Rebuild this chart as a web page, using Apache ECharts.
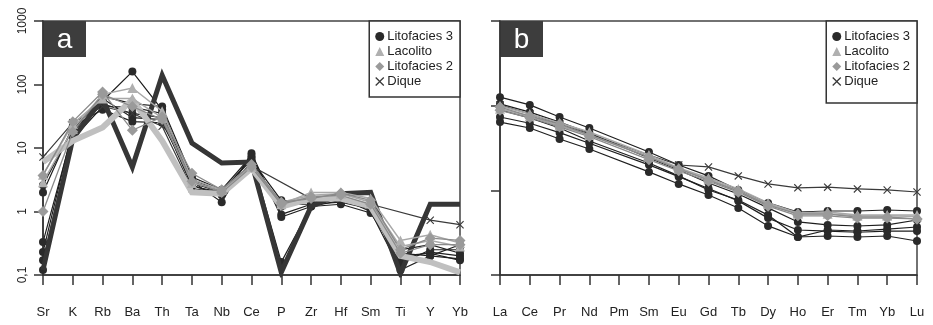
<!DOCTYPE html>
<html><head><meta charset="utf-8">
<script src="https://cdn.jsdelivr.net/npm/echarts@6/dist/echarts.min.js"></script>
<style>html,body{margin:0;padding:0;background:#fff}#c{width:933px;height:325px}</style>
</head><body><div id="c"></div>
<script>
// ---- categories ----
const elemA = ['Sr','K','Rb','Ba','Th','Ta','Nb','Ce','P','Zr','Hf','Sm','Ti','Y','Yb'];
const elemB = ['La','Ce','Pr','Nd','Pm','Sm','Eu','Gd','Tb','Dy','Ho','Er','Tm','Yb','Lu'];
const tickLabelsA = ['0,1','1','10','100','1000'];
const legendNames = ['Litofacies 3','Lacolito','Litofacies 2','Dique'];
const panelLetters = ['a','b'];

// ---- panel a (spider diagram) ----
const aLit3_1 = [0.33, 18, 55, 160, 40, 3.0, 1.4, 8.3, 0.82, 1.2, 1.3, 0.95, 0.18, 0.23, 0.2];
const aLit3_2 = [0.12, 14, 45, 44, 35, 2.8, 2.0, 7.0, 0.16, 1.2, 1.5, 1.2, 0.2, 0.22, 0.17];
const aLit3_3 = [0.17, 16, 50, 35, 30, 2.6, 1.8, 6.0, 1.3, 1.3, 1.4, 1.1, 0.15, 0.25, 0.25];
const aLit3_4 = [0.23, 20, 60, 30, 28, 2.5, 2.0, 5.5, 1.2, 1.5, 1.5, 1.2, 0.22, 0.2, 0.3];
const aLit3_5 = [2.0, 22, 40, 26, 25, 3.2, 2.1, 6.5, 1.5, 1.4, 1.6, 1.3, 0.25, 0.3, 0.22];
const aLit3_6 = [2.6, 20, 65, 50, 45, 3.5, 2.2, 7.5, 0.9, 1.3, 1.6, 1.0, 0.12, 0.2, 0.18];
const aLac_1  = [2.9, 20, 70, 88, 38, 3.2, 2.2, 5.5, 1.3, 2.0, 2.0, 1.6, 0.35, 0.43, 0.32];
const aLac_2  = [3.8, 24, 60, 60, 30, 2.8, 2.2, 5.0, 1.4, 1.8, 1.9, 1.4, 0.28, 0.35, 0.28];
const aLit2_1 = [3.7, 26, 76, 19, 31, 4.0, 2.2, 5.5, 1.4, 1.6, 1.95, 1.5, 0.25, 0.38, 0.35];
const aLit2_2 = [1.0, 18, 70, 45, 28, 3.0, 2.0, 5.0, 1.3, 1.7, 1.8, 1.3, 0.22, 0.3, 0.3];
const aDique  = [7.2, 25, 45, 35, 22, 2.3, 2.0, 5.2, null, 1.6, 1.6, 1.3, null, 0.73, 0.62];
const aRefDark  = [0.12, 14, 60, 5.0, 140, 12, 5.8, 6.0, 0.11, 1.2, 1.9, 2.0, 0.105, 1.3, 1.3];
const aRefLight = [6, 13, 21, 58, 13, 2.0, 1.9, 4.8, 1.2, 1.6, 1.6, 1.2, 0.2, 0.16, 0.11];

// ---- panel b (REE) ----
const bLit3_1 = [126, 102, 73.5, 54.5, null, 28.4, 19.9, 14.8, 10.1, 7.1, 5.55, 5.7, 5.7, 5.86, 5.7];
const bLit3_2 = [105, 84, 64, 47.5, null, 24.1, 17.4, 12.2, 9.05, 6.2, 4.23, 3.9, 3.79, 3.9, 4.46];
const bLit3_3 = [89, 71.5, 54.5, 38.3, null, 21.0, 14.8, 10.1, 7.7, 5.1, 2.81, 3.4, 3.31, 3.49, 3.69];
const bLit3_4 = [64, 54.5, 40.4, 30.8, null, 16.5, 11.9, 8.8, 6.18, 3.8, 2.81, 2.89, 2.81, 2.89, 2.52];
const bLit3_5 = [73.5, 62, 48, 36, null, 20, 14.5, 10.5, 7.5, 4.7, 3.4, 3.3, 3.2, 3.3, 3.3];
const bLac_1  = [99, 79.7, 62.4, 48.9, null, 26.1, 18.4, 14.0, 10.4, 7.1, 5.4, 5.55, 5.1, 5.1, 5.1];
const bLac_2  = [92, 75, 58, 45, null, 25, 18, 13.5, 10, 6.9, 5.3, 5.3, 5.0, 5.0, 4.9];
const bLit2_1 = [96.4, 75.5, 60.7, 45.0, null, 24.7, 17.9, 13.2, 9.8, 6.7, 5.25, 5.25, 4.84, 4.84, 4.59];
const bLit2_2 = [88, 72, 56, 43, null, 23, 17, 12.8, 9.5, 6.5, 5.0, 5.0, 4.7, 4.7, 4.6];
const bDique  = [101.8, 79.7, 60.7, 46.3, null, 26.1, 19.9, 18.9, 14.8, 11.9, 10.7, 10.9, 10.4, 10.1, 9.55];

// ---- styles ----
const FONT = 'Liberation Sans, Arial, sans-serif';
const X_PATH = 'path://M1,0L5,4L9,0L10,1L6,5L10,9L9,10L5,6L1,10L0,9L4,5L0,1Z';
const styles = {
  'Litofacies 3': {symbol:'circle', symbolSize:8, lineStyle:{color:'#1e1e1e', width:1.2}, itemStyle:{color:'#2a2a2a'}},
  'Lacolito': {symbol:'triangle', symbolSize:10, lineStyle:{color:'#a8a8a8', width:1.5}, itemStyle:{color:'#b0b0b0'}},
  'Litofacies 2': {symbol:'diamond', symbolSize:11, lineStyle:{color:'#8a8a8a', width:1.3}, itemStyle:{color:'#9a9a9a'}},
  'Dique': {symbol:X_PATH, symbolSize:8, lineStyle:{color:'#3a3a3a', width:1.2}, itemStyle:{color:'#3a3a3a'}},
  'refDark': {symbol:'none', showSymbol:false, lineStyle:{color:'#363636', width:5}},
  'refLight': {symbol:'none', showSymbol:false, lineStyle:{color:'#c0c0c0', width:6}}
};
function mk(name, data, idx, z) {
  const s = styles[name];
  return {
    type:'line', name, data, xAxisIndex:idx, yAxisIndex:idx, connectNulls:true,
    symbol:s.symbol, symbolSize:s.symbolSize, showSymbol: s.showSymbol !== false,
    lineStyle:Object.assign({join:'miter', cap:'butt'}, s.lineStyle),
    itemStyle:s.itemStyle || {}, z: z, animation:false, emphasis:{disabled:true}, silent:true
  };
}

const series = [
  mk('Litofacies 3', aLit3_1, 0, 2), mk('Litofacies 3', aLit3_2, 0, 2), mk('Litofacies 3', aLit3_3, 0, 2),
  mk('Litofacies 3', aLit3_4, 0, 2), mk('Litofacies 3', aLit3_5, 0, 2), mk('Litofacies 3', aLit3_6, 0, 2),
  mk('Dique', aDique, 0, 2),
  mk('refDark', aRefDark, 0, 3), mk('refLight', aRefLight, 0, 3),
  mk('Lacolito', aLac_1, 0, 4), mk('Lacolito', aLac_2, 0, 4),
  mk('Litofacies 2', aLit2_1, 0, 4), mk('Litofacies 2', aLit2_2, 0, 4),
  mk('Litofacies 3', bLit3_1, 1, 2), mk('Litofacies 3', bLit3_2, 1, 2), mk('Litofacies 3', bLit3_3, 1, 2),
  mk('Litofacies 3', bLit3_4, 1, 2), mk('Litofacies 3', bLit3_5, 1, 2),
  mk('Dique', bDique, 1, 2),
  mk('Lacolito', bLac_1, 1, 3), mk('Lacolito', bLac_2, 1, 3),
  mk('Litofacies 2', bLit2_1, 1, 3), mk('Litofacies 2', bLit2_2, 1, 3)
];

const legendIcons = ['circle','triangle','diamond',X_PATH];
function mkLegend(right, bottomPad) {
  return {
    right, top: 21, orient:'vertical', selectedMode:false,
    data: legendNames.map((n,i)=>({name:n, icon:legendIcons[i]})),
    backgroundColor:'#fff', borderColor:'#333', borderWidth:1.5, borderRadius:0,
    padding:[9, 7, bottomPad, 6], itemGap:2, itemWidth:9, itemHeight:9,
    textStyle:{fontSize:13, color:'#222', fontFamily:FONT, lineHeight:13, padding:[0,0,0,-2]}
  };
}

const axisLineStyle = {color:'#333', width:1.5};
function xAx(idx, data) {
  return {
    type:'category', gridIndex:idx, data, boundaryGap:false,
    axisLine:{show:true, lineStyle:axisLineStyle},
    axisTick:{show:true, length:10, lineStyle:axisLineStyle},
    axisLabel:{margin:31, fontSize:13, color:'#222', fontFamily:FONT, interval:0},
    splitLine:{show:false}
  };
}
function yAx(idx, min, showLabel) {
  return {
    type:'log', logBase:10, gridIndex:idx, min, max:1000,
    axisLine:{show:true, lineStyle:axisLineStyle},
    axisTick:{show:true, length:9, lineStyle:axisLineStyle},
    axisLabel:{show:showLabel, rotate:90, margin:14, fontSize:12, color:'#222', fontFamily:FONT,
      formatter: v => tickLabelsA[Math.round(Math.log10(v)) + 1]},
    splitLine:{show:false}
  };
}

function letterBox(x, letter) {
  return {type:'group', left:x, top:21, z:100, children:[
    {type:'rect', shape:{x:0, y:0, width:43, height:36}, style:{fill:'#3d3d3d'}},
    {type:'text', x:21.5, y:19, style:{text:letter, fill:'#fff', font:'28px ' + FONT, align:'center', verticalAlign:'middle'}}
  ]};
}

const chart = echarts.init(document.getElementById('c'), null, {renderer:'canvas'});
chart.setOption({
  animation:false,
  backgroundColor:'#fff',
  grid:[
    {left:43, top:21, width:417, height:254, show:true, borderColor:'#444', borderWidth:1.5, backgroundColor:'transparent'},
    {left:500, top:21, width:417, height:254, show:true, borderColor:'#444', borderWidth:1.5, backgroundColor:'transparent'}
  ],
  xAxis:[xAx(0, elemA), xAx(1, elemB)],
  yAxis:[yAx(0, 0.1, true), yAx(1, 1, false)],
  legend:[mkLegend(933 - 460, 9), mkLegend(933 - 917, 15)],
  graphic:[letterBox(43, panelLetters[0]), letterBox(500, panelLetters[1])],
  series
});
</script></body></html>
